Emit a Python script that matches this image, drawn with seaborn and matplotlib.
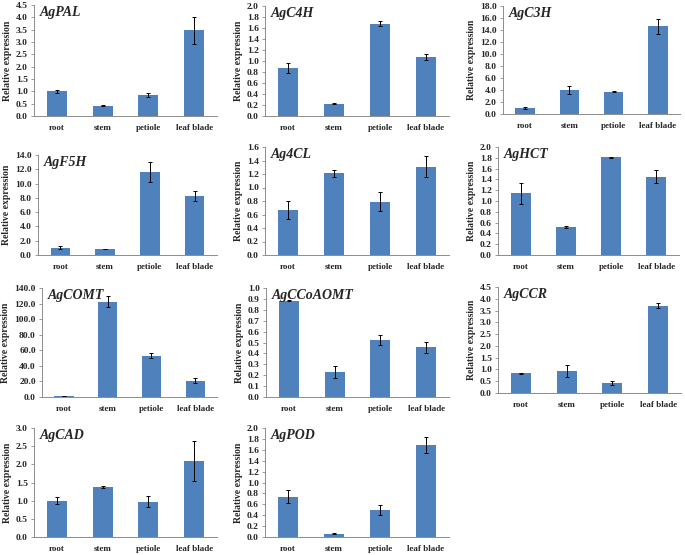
import matplotlib
matplotlib.use("Agg")
import matplotlib.pyplot as plt
import seaborn as sns
import pandas as pd
import numpy as np

sns.set_theme(style="white")
plt.rcParams['font.family'] = ['Liberation Serif', 'DejaVu Serif']

categories = ["root", "stem", "petiole", "leaf blade"]

genes = ["AgPAL", "AgC4H", "AgC3H", "AgF5H", "Ag4CL", "AgHCT",
         "AgCOMT", "AgCCoAOMT", "AgCCR", "AgCAD", "AgPOD"]

pal_vals = [1.00, 0.42, 0.85, 3.48]
pal_err = [0.06, 0.02, 0.07, 0.55]
c4h_vals = [0.87, 0.22, 1.68, 1.07]
c4h_err = [0.09, 0.01, 0.05, 0.05]
c3h_vals = [1.0, 4.0, 3.75, 14.6]
c3h_err = [0.15, 0.65, 0.10, 1.30]
f5h_vals = [1.0, 0.85, 11.6, 8.2]
f5h_err = [0.20, 0.05, 1.40, 0.70]
cl4_vals = [0.67, 1.21, 0.79, 1.31]
cl4_err = [0.13, 0.05, 0.14, 0.16]
hct_vals = [1.14, 0.52, 1.81, 1.45]
hct_err = [0.20, 0.02, 0.005, 0.12]
comt_vals = [1.0, 122.5, 53.0, 21.0]
comt_err = [0.2, 7.0, 3.0, 3.0]
ccoaomt_vals = [0.885, 0.23, 0.52, 0.455]
ccoaomt_err = [0.005, 0.055, 0.045, 0.05]
ccr_vals = [0.83, 0.94, 0.43, 3.70]
ccr_err = [0.02, 0.26, 0.07, 0.10]
cad_vals = [1.00, 1.37, 0.97, 2.10]
cad_err = [0.09, 0.02, 0.15, 0.55]
pod_vals = [0.74, 0.06, 0.49, 1.69]
pod_err = [0.12, 0.01, 0.09, 0.14]

values = [pal_vals, c4h_vals, c3h_vals, f5h_vals, cl4_vals, hct_vals,
          comt_vals, ccoaomt_vals, ccr_vals, cad_vals, pod_vals]
errors = [pal_err, c4h_err, c3h_err, f5h_err, cl4_err, hct_err,
          comt_err, ccoaomt_err, ccr_err, cad_err, pod_err]
ymax = [4.5, 2.0, 18.0, 14.0, 1.6, 2.0, 140.0, 1.0, 4.5, 3.0, 2.0]
ystep = [0.5, 0.2, 2.0, 2.0, 0.2, 0.2, 20.0, 0.1, 0.5, 0.5, 0.2]

# panel rectangles in pixels: left, top, right, bottom
rects = [(34, 5, 217, 116), (265, 6, 449, 116), (503, 6, 680, 114),
         (38, 155, 217, 255), (265, 147, 449, 255), (498, 147, 679, 255),
         (42, 288, 217, 397), (266, 288, 449, 397), (498, 287, 681, 393),
         (34, 428, 217, 537), (265, 428, 449, 537)]

W, H = 685, 555
fig = plt.figure(figsize=(W / 100, H / 100), dpi=100)
bar_color = "#4F81BD"
spine_color = "#8C8C8C"

for g, v, e, ym, st, r in zip(genes, values, errors, ymax, ystep, rects):
    l, t, rr, b = r
    ax = fig.add_axes([l / W, 1 - b / H, (rr - l) / W, (b - t) / H])
    df = pd.DataFrame({"tissue": categories, "value": v})
    sns.barplot(data=df, x="tissue", y="value", color=bar_color, width=0.44,
                saturation=1, ax=ax, errorbar=None, linewidth=0)
    ax.errorbar(np.arange(len(categories)), v, yerr=e, fmt="none",
                ecolor="black", elinewidth=0.7, capsize=1.6, capthick=0.7)
    ax.set_xlim(-0.5, len(categories) - 0.5)
    ax.set_ylim(0, ym)
    ticks = np.arange(0, ym + st / 2, st)
    ax.set_yticks(ticks)
    ax.set_yticklabels([f"{x:.1f}" for x in ticks], fontsize=6.8, fontweight="bold")
    ax.set_xticks(range(len(categories)))
    ax.set_xticklabels(categories, fontsize=6.5, fontweight="bold")
    ax.set_xticks(np.arange(-0.5, len(categories), 1.0), minor=True)
    ax.tick_params(axis="x", which="major", length=0, pad=6)
    ax.tick_params(axis="x", which="minor", length=3, width=0.6, color=spine_color, direction="out")
    ax.tick_params(axis="y", length=2.5, width=0.6, color=spine_color, direction="out", pad=2, left=True)
    ax.set_xlabel("")
    ax.set_ylabel("Relative expression", fontsize=7, fontweight="bold", labelpad=3)
    for s in ["top", "right"]:
        ax.spines[s].set_visible(False)
    for s in ["left", "bottom"]:
        ax.spines[s].set_color(spine_color)
        ax.spines[s].set_linewidth(0.7)
    ax.text(0.03, 0.99, g, transform=ax.transAxes, ha="left", va="top",
            fontsize=10, fontweight="bold", fontstyle="italic")

fig.savefig("out.png", dpi=100, facecolor="white")
